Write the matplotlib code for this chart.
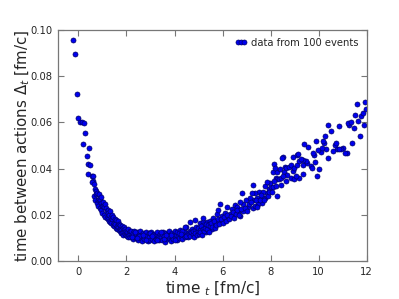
import matplotlib
matplotlib.use("Agg")
import matplotlib.pyplot as plt

# ---- data ----
t_early = [-0.22, -0.14, -0.05, 0.0, 0.07, 0.15, 0.24, 0.28, 0.17, 0.46, 0.35, 0.40, 0.50, 0.38,
           0.56, 0.62, 0.60, 0.58]
dt_early = [0.0955, 0.0896, 0.0724, 0.062, 0.0602, 0.0602, 0.0599, 0.0554, 0.0508, 0.0489, 0.0455,
            0.0418, 0.0416, 0.0376, 0.0370, 0.0368, 0.0348, 0.0340]

t_fall = [0.63, 0.66, 0.68, 0.70, 0.72, 0.74, 0.76, 0.78, 0.80, 0.82, 0.84, 0.86, 0.88, 0.90, 0.92,
          0.94, 0.96, 0.98, 1.00, 1.02, 1.04, 1.06, 1.08, 1.10, 1.12, 1.15, 1.17, 1.19, 1.21, 1.23,
          1.25, 1.27, 1.29, 1.31, 1.33, 1.35, 1.37, 1.39, 1.41, 1.43, 1.45, 1.47, 1.49, 1.51, 1.53,
          1.55, 1.57, 1.59, 1.61, 1.63, 1.65, 1.67, 1.69, 1.71, 1.73, 1.75, 1.77, 1.79, 1.81, 1.83,
          1.85, 1.87, 1.89, 1.91, 1.93, 1.95, 1.97, 1.99, 2.01, 2.03, 2.05, 2.07, 2.09, 2.11, 2.13,
          2.15, 2.17]
dt_fall = [0.0335, 0.0280, 0.0310, 0.0265, 0.0305, 0.0290, 0.0250, 0.0295, 0.0262, 0.0240, 0.0288,
           0.0270, 0.0228, 0.0262, 0.0278, 0.0220, 0.0252, 0.0240, 0.0208, 0.0255, 0.0238, 0.0200,
           0.0232, 0.0248, 0.0192, 0.0228, 0.0215, 0.0185, 0.0222, 0.0180, 0.0210, 0.0175, 0.0200,
           0.0215, 0.0168, 0.0192, 0.0165, 0.0200, 0.0180, 0.0158, 0.0190, 0.0165, 0.0150, 0.0182,
           0.0160, 0.0145, 0.0178, 0.0152, 0.0140, 0.0175, 0.0148, 0.0133, 0.0162, 0.0140, 0.0128,
           0.0158, 0.0135, 0.0122, 0.0152, 0.0120, 0.0142, 0.0112, 0.0148, 0.0125, 0.0115, 0.0140,
           0.0112, 0.0132, 0.0108, 0.0125, 0.0138, 0.0105, 0.0122, 0.0112, 0.0130, 0.0102, 0.0118]

t_flat = [2.20, 2.23, 2.26, 2.29, 2.32, 2.35, 2.38, 2.41, 2.44, 2.47, 2.50, 2.53, 2.56, 2.59, 2.62,
          2.65, 2.68, 2.71, 2.74, 2.77, 2.80, 2.83, 2.86, 2.89, 2.92, 2.95, 2.98, 3.01, 3.04, 3.07,
          3.10, 3.13, 3.16, 3.19, 3.22, 3.25, 3.28, 3.31, 3.34, 3.37, 3.40, 3.43, 3.46, 3.49, 3.52,
          3.55, 3.58, 3.61, 3.64, 3.67, 3.70, 3.73, 3.76, 3.79, 3.82, 3.85, 3.88, 3.91, 3.94, 3.97,
          4.00, 4.03, 4.06, 4.09, 4.12, 4.15, 4.18, 4.21, 4.24, 4.27, 4.30, 4.33, 4.36, 4.39, 4.42,
          4.45, 4.48, 4.51, 4.54, 4.57,
          2.21, 2.36, 2.52, 2.67, 2.82, 2.97, 3.12, 3.27, 3.42, 3.57, 3.72, 3.87, 4.02, 4.17, 4.32,
          4.47, 2.45, 3.05, 3.65, 4.25]
dt_flat = [0.0128, 0.0110, 0.0095, 0.0120, 0.0132, 0.0104, 0.0116, 0.0098, 0.0125, 0.0109, 0.0092,
           0.0118, 0.0130, 0.0101, 0.0113, 0.0088, 0.0122, 0.0106, 0.0095, 0.0117, 0.0127, 0.0099,
           0.0110, 0.0086, 0.0120, 0.0104, 0.0093, 0.0115, 0.0124, 0.0097, 0.0109, 0.0087, 0.0119,
           0.0103, 0.0094, 0.0114, 0.0126, 0.0098, 0.0108, 0.0089, 0.0117, 0.0102, 0.0093, 0.0115,
           0.0124, 0.0100, 0.0110, 0.0084, 0.0120, 0.0105, 0.0094, 0.0117, 0.0128, 0.0101, 0.0112,
           0.0086, 0.0122, 0.0107, 0.0096, 0.0119, 0.0130, 0.0104, 0.0114, 0.0092, 0.0125, 0.0110,
           0.0100, 0.0122, 0.0134, 0.0108, 0.0118, 0.0097, 0.0128, 0.0113, 0.0104, 0.0126, 0.0149,
           0.0112, 0.0122, 0.0102,
           0.0102, 0.0124, 0.0107, 0.0114, 0.0092, 0.0122, 0.0113, 0.0092, 0.0124, 0.0095, 0.0109,
           0.0114, 0.0093, 0.0120, 0.0128, 0.0110, 0.0100, 0.0110, 0.0112, 0.0116]

t_rise = [4.44, 4.65, 4.86, 5.06, 5.20, 5.14, 5.31, 5.55, 5.41, 5.20, 5.62, 5.34, 5.83, 5.48, 6.03,
          5.18, 5.62, 6.24, 5.97, 5.76, 6.31, 6.10, 5.83, 6.73, 6.45, 6.87, 6.66, 6.38, 6.18, 5.90,
          6.52, 6.62, 7.28, 7.07, 7.63, 7.49, 6.87, 6.73, 6.98, 7.28, 7.14, 7.77, 7.63, 7.42, 7.53,
          7.35, 7.22, 6.82, 8.28, 7.84, 7.70, 7.26, 7.94, 8.02, 7.78, 7.98, 7.84,
          4.60, 4.63, 4.66, 4.69, 4.72, 4.75, 4.78, 4.81, 4.84, 4.87, 4.90, 4.93, 4.96, 4.99, 5.02,
          5.05, 5.08, 5.11, 5.14, 5.17, 5.23, 5.26, 5.29, 5.36, 5.39, 5.44, 5.47, 5.52, 5.58, 5.65,
          5.68, 5.72, 5.79, 5.86, 5.92, 6.00, 6.06, 6.14, 6.20, 6.27, 6.35, 6.42, 6.48, 6.56, 6.60,
          6.69, 6.77, 6.92, 7.00, 7.10, 7.18, 7.34, 7.40, 7.56, 7.60, 7.72, 7.90, 7.95, 7.45]
dt_rise = [0.0149, 0.0170, 0.0177, 0.0163, 0.0170, 0.0134, 0.0127, 0.0137, 0.0146, 0.0156, 0.0160,
           0.0170, 0.0170, 0.0174, 0.0177, 0.0185, 0.0185, 0.0185, 0.0195, 0.0202, 0.0203, 0.0206,
           0.0221, 0.0195, 0.0199, 0.0216, 0.0213, 0.0224, 0.0232, 0.0247, 0.0242, 0.0232, 0.0228,
           0.0232, 0.0250, 0.0247, 0.0247, 0.0257, 0.0264, 0.0264, 0.0274, 0.0271, 0.0278, 0.0274,
           0.0297, 0.0296, 0.0293, 0.0293, 0.0283, 0.0293, 0.0297, 0.0329, 0.0310, 0.0319, 0.0326,
           0.0336, 0.0343,
           0.0118, 0.0132, 0.0109, 0.0125, 0.0140, 0.0115, 0.0128, 0.0106, 0.0135, 0.0120, 0.0148,
           0.0112, 0.0130, 0.0142, 0.0118, 0.0136, 0.0125, 0.0150, 0.0114, 0.0140, 0.0128, 0.0145,
           0.0160, 0.0138, 0.0155, 0.0126, 0.0150, 0.0165, 0.0148, 0.0172, 0.0145, 0.0158, 0.0183,
           0.0160, 0.0180, 0.0165, 0.0190, 0.0175, 0.0198, 0.0180, 0.0195, 0.0212, 0.0188, 0.0205,
           0.0220, 0.0200, 0.0225, 0.0230, 0.0215, 0.0245, 0.0255, 0.0240, 0.0262, 0.0265, 0.0285,
           0.0262, 0.0280, 0.0300, 0.0235]

t_late = [8.13, 8.09, 8.28, 8.21, 8.28, 8.37, 8.19, 8.60, 8.66, 8.77, 8.57, 8.92, 8.34, 8.43, 8.84,
          8.96, 9.18, 9.34, 9.07, 9.93, 10.01, 8.09, 8.23, 8.53, 8.49, 8.84, 8.96, 9.09, 9.34,
          9.66, 9.73, 9.52, 9.85, 9.20, 9.48, 9.36, 9.27, 8.94, 9.10, 9.14, 9.82, 9.77, 10.11,
          10.75, 10.61, 11.17, 11.09, 11.02, 10.93, 10.84, 9.97, 10.31, 10.14, 9.56, 9.40, 10.67,
          10.72, 10.21, 10.17, 9.89, 10.28, 10.52, 10.38, 10.84, 11.40, 11.71, 11.46, 11.28, 11.24,
          11.33, 11.88, 11.65, 11.51, 11.76, 11.85, 11.96, 11.94, 11.59, 10.40,
          8.45, 8.62, 8.70, 8.05, 8.50, 8.15]
dt_late = [0.0420, 0.0386, 0.0384, 0.0361, 0.0354, 0.0397, 0.0401, 0.0408, 0.0403, 0.0406, 0.0384,
           0.0391, 0.0356, 0.0358, 0.0361, 0.0355, 0.0361, 0.0375, 0.0369, 0.0367, 0.0400, 0.0319,
           0.0325, 0.0452, 0.0445, 0.0414, 0.0403, 0.0417, 0.0416, 0.0411, 0.0404, 0.0423, 0.0427,
           0.0434, 0.0434, 0.0437, 0.0443, 0.0449, 0.0459, 0.0463, 0.0459, 0.0469, 0.0472, 0.0484,
           0.0475, 0.0469, 0.0469, 0.0489, 0.0486, 0.0486, 0.0481, 0.0486, 0.0489, 0.0492, 0.0505,
           0.0501, 0.0509, 0.0509, 0.0521, 0.0521, 0.0540, 0.0564, 0.0590, 0.0586, 0.0509, 0.0541,
           0.0577, 0.0587, 0.0599, 0.0603, 0.0590, 0.0607, 0.0632, 0.0628, 0.0642, 0.0658, 0.0690,
           0.0681, 0.0444,
           0.0330, 0.0345, 0.0372, 0.0300, 0.0370, 0.0345]

times = t_early + t_fall + t_flat + t_rise + t_late
dts = dt_early + dt_fall + dt_flat + dt_rise + dt_late

legend_label = "data from 100 events"
x_ticks = [0, 2, 4, 6, 8, 10, 12]
y_ticks = [0.00, 0.02, 0.04, 0.06, 0.08, 0.10]

# ---- figure ----
text_color = "#262626"
fig = plt.figure(figsize=(3.99, 2.99), dpi=100)
ax = fig.add_axes([0.1454, 0.127, 0.7737, 0.7727])

ax.plot(times, dts, linestyle="none", marker="o", markersize=3.6,
        markerfacecolor="#0000ee", markeredgecolor="#000066", markeredgewidth=0.5,
        label=legend_label)

ax.set_xlim(-0.85, 12)
ax.set_ylim(0.0, 0.10)
ax.set_xticks(x_ticks)
ax.set_yticks(y_ticks)
ax.set_yticklabels([f"{v:.2f}" for v in y_ticks])

ax.tick_params(direction="in", top=True, right=True, length=4, width=0.8,
               color="#777777", labelsize=7.2, labelcolor=text_color, pad=4)
for s in ax.spines.values():
    s.set_color("#777777")
    s.set_linewidth(0.9)

ax.set_xlabel("time $_t$ [fm/c]", fontsize=11, color=text_color, labelpad=2)
ax.set_ylabel("time between actions $\\Delta_t$ [fm/c]", fontsize=10.8, color=text_color, labelpad=-1)

leg = ax.legend(loc="upper right", frameon=False, numpoints=3, fontsize=7.2,
                handlelength=1.2, handletextpad=0.4, borderaxespad=0.4, labelcolor=text_color)

fig.savefig("out.png", dpi=100)
